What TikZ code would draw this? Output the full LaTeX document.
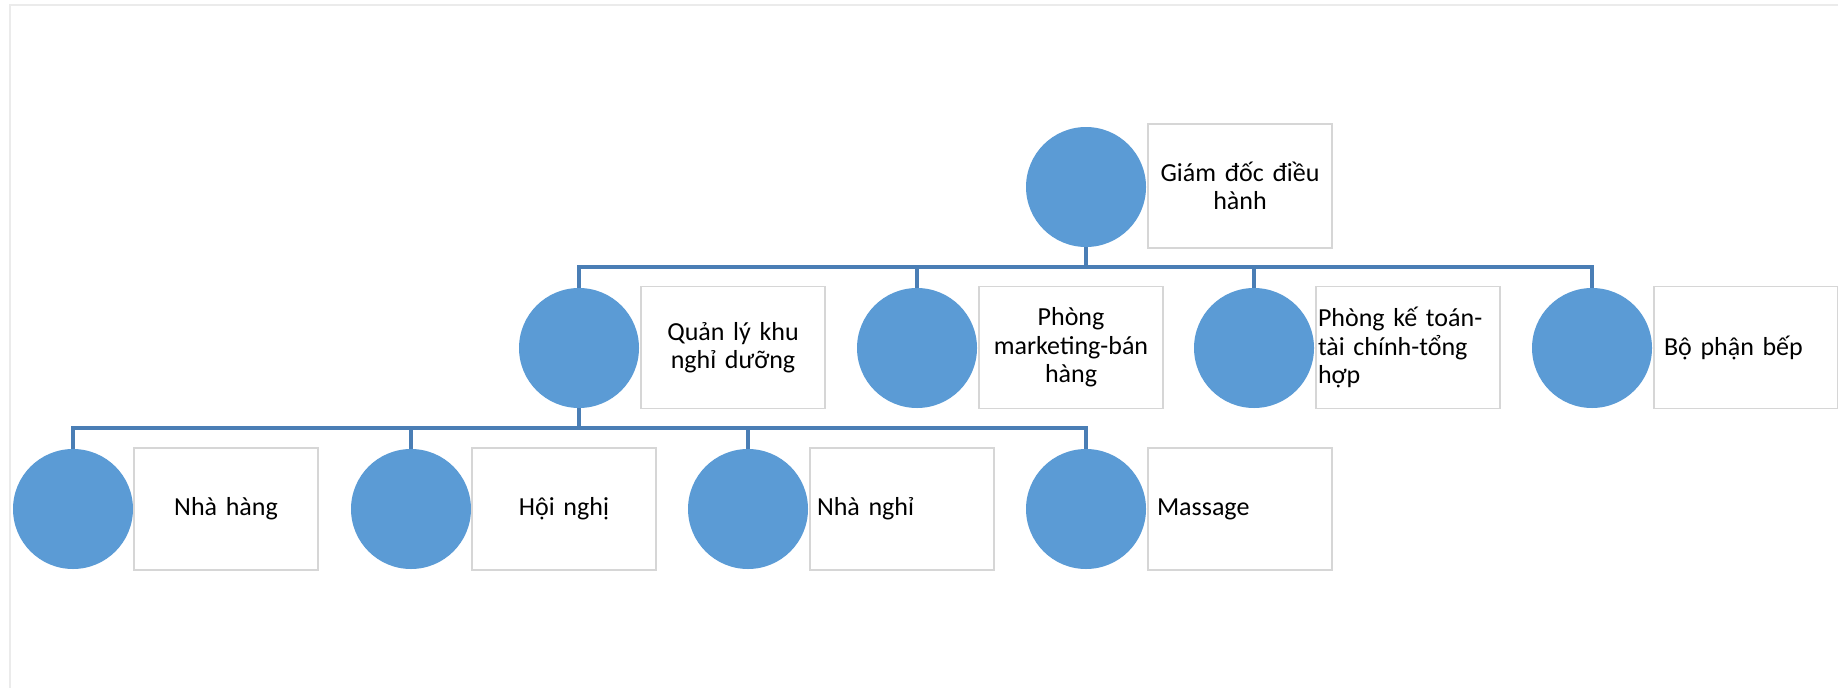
\documentclass[tikz,border=0pt]{standalone}
\usepackage{fontspec}
\setmainfont{Carlito}
\definecolor{circblue}{HTML}{5B9BD5}
\definecolor{connblue}{HTML}{4A7EB5}
\definecolor{boxgray}{HTML}{D6D6D6}
\definecolor{pagegray}{HTML}{EBEBEB}
\tikzset{
  circ/.style={circle, fill=circblue, draw=none, minimum size=120pt, inner sep=0pt},
  lblbox/.style={rectangle, draw=boxgray, line width=1.4pt, minimum width=184pt,
    minimum height=122pt, font=\fontsize{26}{28.5}\selectfont},
  lblc/.style={lblbox, align=center, inner xsep=6pt, text width=172pt},
  lbll/.style={lblbox, align=left, inner xsep=#1, text width=184pt-2*#1},
  conn/.style={draw=connblue, line width=3.2pt},
}
\begin{document}
\begin{tikzpicture}[x=1pt, y=-1pt]
\useasboundingbox (0,0) rectangle (1838,688);
% page border
\draw[pagegray, line width=1.6pt] (10,688) -- (10,5) -- (1838,5);

% level 0
\node[circ] (c0) at (1086,187) {};
\node[lblc, minimum height=124pt] (b0) at (1240,186) {Giám đốc điều\\hành};

% level 1
\node[circ] (c1) at (579,348) {};
\node[lblc] (b1) at (733,347.5) {Quản lý khu\\nghỉ dưỡng};
\node[circ] (c2) at (917,348) {};
\node[lblc] (b2) at (1071,347.5) {Phòng\\marketing-bán\\hàng};
\node[circ] (c3) at (1254,348) {};
\node[lbll=2pt] (b3) at (1408,347.5) {Phòng kế toán-\\tài chính-tổng\\hợp};
\node[circ] (c4) at (1592,348) {};
\node[lbll=10pt] (b4) at (1746,347.5) {Bộ phận bếp};

% level 2
\node[circ] (d1) at (73,509) {};
\node[lblc] (e1) at (226,509) {Nhà hàng};
\node[circ] (d2) at (411,509) {};
\node[lblc] (e2) at (564,509) {Hội nghị};
\node[circ] (d3) at (748,509) {};
\node[lbll=7pt] (e3) at (902,509) {Nhà nghỉ};
\node[circ] (d4) at (1086,509) {};
\node[lbll=9pt] (e4) at (1240,509) {Massage};

% connectors
\coordinate (j0) at (1086,267);
\coordinate (j1) at (579,428);
\foreach \k in {c1,c2,c3,c4}{
  \draw[conn] (c0.south) -- (j0) -| (\k.north);
}
\foreach \k in {d1,d2,d3,d4}{
  \draw[conn] (c1.south) -- (j1) -| (\k.north);
}
\end{tikzpicture}
\end{document}
